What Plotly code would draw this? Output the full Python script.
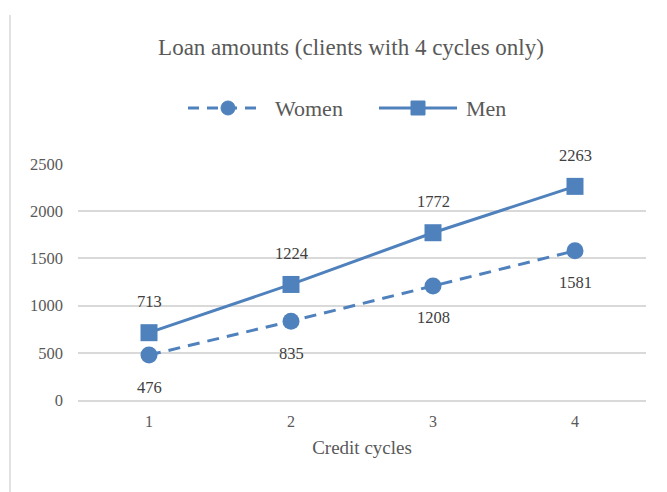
import plotly.graph_objects as go

cycles = ["1", "2", "3", "4"]
women = [476, 835, 1208, 1581]
men = [713, 1224, 1772, 2263]
y_ticks = [0, 500, 1000, 1500, 2000, 2500]

color = "#4F81BD"
font_family = "Liberation Serif, DejaVu Serif, serif"
gray = "#595959"
label_color = "#404040"

L, R, T, B = 78, 21, 164, 92
W, H = 667, 492
PW, PH = W - L - R, H - T - B


def px_x(p):
    return (p - L) / PW


def px_y(p):
    return (H - B - p) / PH


fig = go.Figure()
fig.add_trace(go.Scatter(
    x=cycles, y=women, name="Women", mode="lines+markers",
    line=dict(color=color, width=3, dash="12px,8px"),
    marker=dict(symbol="circle", size=17, color=color),
    cliponaxis=False, showlegend=False,
))
fig.add_trace(go.Scatter(
    x=cycles, y=men, name="Men", mode="lines+markers",
    line=dict(color=color, width=3),
    marker=dict(symbol="square", size=17, color=color),
    cliponaxis=False, showlegend=False,
))

# data labels (category axis: annotation x is the category index)
for ys, shift in ((women, -32), (men, 31)):
    for i, yv in enumerate(ys):
        fig.add_annotation(x=i, y=yv, text=str(yv), showarrow=False,
                           yshift=shift, xanchor="center", yanchor="middle",
                           font=dict(family=font_family, size=16.5, color=label_color))

# custom legend
LY = 108
fig.add_shape(type="line", xref="paper", yref="paper",
              x0=px_x(188), x1=px_x(263), y0=px_y(LY), y1=px_y(LY),
              line=dict(color=color, width=3, dash="11px,8px"))
fig.add_shape(type="circle", xref="paper", yref="paper",
              x0=px_x(221), x1=px_x(235), y0=px_y(LY + 7), y1=px_y(LY - 7),
              fillcolor=color, line=dict(color=color, width=1))
fig.add_shape(type="line", xref="paper", yref="paper",
              x0=px_x(379), x1=px_x(457), y0=px_y(LY), y1=px_y(LY),
              line=dict(color=color, width=3))
fig.add_shape(type="rect", xref="paper", yref="paper",
              x0=px_x(411), x1=px_x(425), y0=px_y(LY + 7), y1=px_y(LY - 7),
              fillcolor=color, line=dict(color=color, width=1))
for name, xp in (("Women", 273), ("Men", 464)):
    fig.add_annotation(xref="paper", yref="paper", x=px_x(xp), y=px_y(LY),
                       text=name, showarrow=False, xanchor="left", yanchor="middle",
                       font=dict(family=font_family, size=22, color=gray))

fig.update_layout(
    width=W, height=H,
    margin=dict(l=L, r=R, t=T, b=B),
    paper_bgcolor="white", plot_bgcolor="white",
    font=dict(family=font_family, color=gray, size=16),
    title=dict(text="Loan amounts (clients with 4 cycles only)", x=351 / W, xanchor="center",
               y=1 - 47 / H, yanchor="middle", font=dict(size=23, color=gray)),
    showlegend=False,
)
fig.update_xaxes(
    type="category", range=[-0.5, 3.5], showgrid=False, showline=True,
    linecolor="#d9d9d9", linewidth=1.5, ticks="", tickfont=dict(size=16, color=gray),
    ticklabelstandoff=6,
    title=dict(text="Credit cycles", font=dict(size=19, color=gray), standoff=12),
    zeroline=False,
)
fig.update_yaxes(
    range=[0, 2500], tickvals=y_ticks, showgrid=True, gridcolor="#d9d9d9", gridwidth=1.5,
    zeroline=False, showline=False, ticks="", tickfont=dict(size=16.5, color=gray),
    ticklabelstandoff=14,
)
fig.add_shape(type="line", xref="paper", yref="paper",
              x0=px_x(10), x1=px_x(10), y0=px_y(H), y1=px_y(15),
              line=dict(color="#d9d9d9", width=1.5))
fig.write_html("out.html", config={"displayModeBar": False},
               post_script="document.body.style.margin='0';")
